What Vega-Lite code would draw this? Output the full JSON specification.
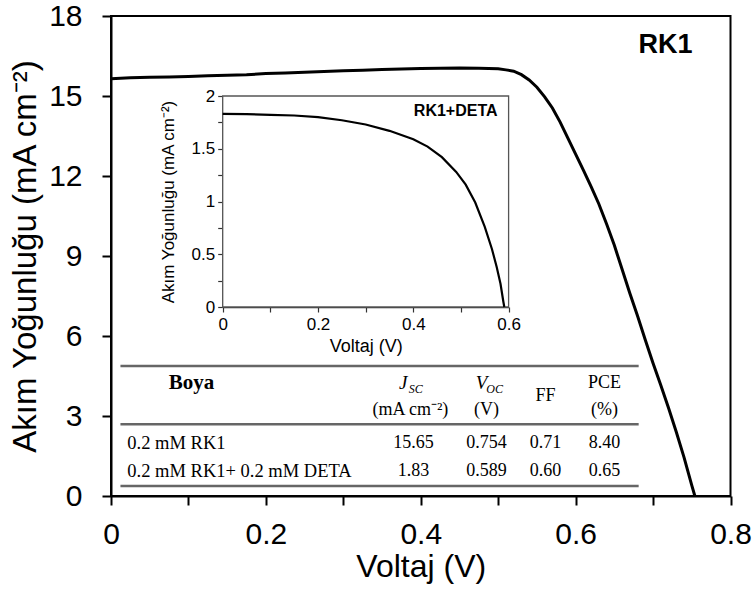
{
  "$schema": "https://vega.github.io/schema/vega-lite/v6.json",
  "width": 619.5,
  "height": 480,
  "autosize": {"type": "none"},
  "padding": {"left": 111, "top": 16, "right": 25.5, "bottom": 100},
  "background": "white",
  "config": {
    "view": {"stroke": "black", "strokeWidth": 2},
    "font": "Liberation Sans",
    "axis": {"grid": false, "titleFontWeight": "normal", "labelFlush": false, "labelOverlap": false, "labelColor": "black", "titleColor": "black", "labelFont": "Liberation Sans", "titleFont": "Liberation Sans"}
  },
  "datasets": {
    "rk1": [
      {"V": 0, "J": 15.65}, {"V": 0.025, "J": 15.68}, {"V": 0.05, "J": 15.7}, {"V": 0.075, "J": 15.71},
      {"V": 0.1, "J": 15.73}, {"V": 0.125, "J": 15.76}, {"V": 0.15, "J": 15.78}, {"V": 0.175, "J": 15.8},
      {"V": 0.2, "J": 15.84}, {"V": 0.225, "J": 15.86}, {"V": 0.25, "J": 15.89}, {"V": 0.275, "J": 15.92},
      {"V": 0.3, "J": 15.95}, {"V": 0.325, "J": 15.97}, {"V": 0.35, "J": 15.99}, {"V": 0.375, "J": 16.01},
      {"V": 0.4, "J": 16.03}, {"V": 0.425, "J": 16.04}, {"V": 0.45, "J": 16.05}, {"V": 0.475, "J": 16.04},
      {"V": 0.5, "J": 16.02}, {"V": 0.51, "J": 15.98}, {"V": 0.52, "J": 15.93}, {"V": 0.53, "J": 15.8},
      {"V": 0.54, "J": 15.6}, {"V": 0.55, "J": 15.33}, {"V": 0.56, "J": 14.97}, {"V": 0.57, "J": 14.55},
      {"V": 0.58, "J": 14.02}, {"V": 0.59, "J": 13.42}, {"V": 0.6, "J": 12.82}, {"V": 0.61, "J": 12.22},
      {"V": 0.62, "J": 11.6}, {"V": 0.63, "J": 10.95}, {"V": 0.64, "J": 10.2}, {"V": 0.65, "J": 9.4},
      {"V": 0.66, "J": 8.5}, {"V": 0.67, "J": 7.6}, {"V": 0.68, "J": 6.75}, {"V": 0.69, "J": 5.85},
      {"V": 0.7, "J": 4.98}, {"V": 0.71, "J": 4.15}, {"V": 0.72, "J": 3.3}, {"V": 0.73, "J": 2.4},
      {"V": 0.74, "J": 1.45}, {"V": 0.75, "J": 0.4}, {"V": 0.754, "J": 0}
    ],
    "deta": [
      {"V": 0, "J": 1.83}, {"V": 0.05, "J": 1.828}, {"V": 0.1, "J": 1.822}, {"V": 0.15, "J": 1.815},
      {"V": 0.2, "J": 1.8}, {"V": 0.25, "J": 1.77}, {"V": 0.3, "J": 1.73}, {"V": 0.35, "J": 1.67},
      {"V": 0.4, "J": 1.59}, {"V": 0.43, "J": 1.52}, {"V": 0.46, "J": 1.42}, {"V": 0.49, "J": 1.28},
      {"V": 0.51, "J": 1.16}, {"V": 0.53, "J": 0.99}, {"V": 0.55, "J": 0.76}, {"V": 0.565, "J": 0.55},
      {"V": 0.575, "J": 0.38}, {"V": 0.583, "J": 0.22}, {"V": 0.589, "J": 0.05}, {"V": 0.591, "J": 0}
    ],
    "tableLines": [
      {"V": 0.0122, "V2": 0.6814, "J": 4.875},
      {"V": 0.0122, "V2": 0.6814, "J": 2.689},
      {"V": 0.0122, "V2": 0.6814, "J": 0.375}
    ],
    "tableCells": [
      {"V": 0.3866, "J": 3.225, "t": "(mA cm⁻²)"},
      {"V": 0.4849, "J": 3.225, "t": "(V)"},
      {"V": 0.5611, "J": 3.75, "t": "FF"},
      {"V": 0.6374, "J": 4.256, "t": "PCE"},
      {"V": 0.6374, "J": 3.225, "t": "(%)"},
      {"V": 0.3905, "J": 1.9875, "t": "15.65"},
      {"V": 0.4849, "J": 1.9875, "t": "0.754"},
      {"V": 0.5611, "J": 1.9875, "t": "0.71"},
      {"V": 0.6374, "J": 1.9875, "t": "8.40"},
      {"V": 0.3905, "J": 0.956, "t": "1.83"},
      {"V": 0.4849, "J": 0.956, "t": "0.589"},
      {"V": 0.5611, "J": 0.956, "t": "0.60"},
      {"V": 0.6374, "J": 0.956, "t": "0.65"}
    ],
    "tableRowLabels": [
      {"V": 0.0211, "J": 1.9875, "t": "0.2 mM RK1"},
      {"V": 0.0211, "J": 0.956, "t": "0.2 mM RK1+ 0.2 mM DETA"}
    ],
    "tableBold": [{"V": 0.1041, "J": 4.256, "t": "Boya"}],
    "tableItalic": [
      {"V": 0.3775, "J": 4.256, "t": "J"},
      {"V": 0.4785, "J": 4.256, "t": "V"}
    ],
    "tableSub": [
      {"V": 0.3935, "J": 4.03, "t": "SC"},
      {"V": 0.4955, "J": 4.03, "t": "OC"}
    ],
    "mainLabel": [{"V": 0.716, "J": 16.91, "t": "RK1"}],
    "insetFrame": [{"V": 0, "V2": 0.6, "J": 0, "J2": 2}],
    "insetLabel": [{"V": 0.489, "J": 1.858, "t": "RK1+DETA"}]
  },
  "layer": [
    {
      "layer": [
        {
          "data": {"name": "rk1"},
          "mark": {"type": "line", "color": "black", "strokeWidth": 3, "interpolate": "linear"},
          "encoding": {
            "x": {
              "field": "V", "type": "quantitative",
              "scale": {"domain": [0, 0.8], "nice": false, "zero": false},
              "axis": {
                "title": "Voltaj (V)", "orient": "bottom",
                "values": [0, 0.1, 0.2, 0.3, 0.4, 0.5, 0.6, 0.7, 0.8],
                "labelExpr": "round(datum.value*10) % 2 == 0 ? format(datum.value, '~g') : ''",
                "labelFontSize": 30, "titleFontSize": 32, "labelPadding": 14, "titlePadding": 2,
                "tickSize": 9, "tickWidth": 2, "tickColor": "black", "domainColor": "black", "domainWidth": 2
              }
            },
            "y": {
              "field": "J", "type": "quantitative",
              "scale": {"domain": [0, 18], "nice": false, "zero": false},
              "axis": {
                "title": "Akım Yoğunluğu (mA cm⁻²)", "orient": "left",
                "values": [0, 1.5, 3, 4.5, 6, 7.5, 9, 10.5, 12, 13.5, 15, 16.5, 18],
                "labelExpr": "round(datum.value/1.5) % 2 == 0 ? format(datum.value, '~g') : ''",
                "labelFontSize": 30, "titleFontSize": 33, "labelPadding": 20, "titlePadding": 6,
                "tickSize": 9, "tickWidth": 2, "tickColor": "black", "domainColor": "black", "domainWidth": 2
              }
            }
          }
        },
        {
          "data": {"name": "mainLabel"},
          "mark": {"type": "text", "font": "Liberation Sans", "fontWeight": "bold", "fontSize": 27, "align": "center", "baseline": "middle", "color": "black"},
          "encoding": {"x": {"field": "V", "type": "quantitative"}, "y": {"field": "J", "type": "quantitative"}, "text": {"field": "t"}}
        },
        {
          "data": {"name": "tableLines"},
          "mark": {"type": "rule", "color": "#666666", "strokeWidth": 2.6},
          "encoding": {"x": {"field": "V", "type": "quantitative"}, "x2": {"field": "V2"}, "y": {"field": "J", "type": "quantitative"}}
        },
        {
          "data": {"name": "tableCells"},
          "mark": {"type": "text", "font": "Liberation Serif", "fontSize": 18, "align": "center", "baseline": "middle", "color": "black"},
          "encoding": {"x": {"field": "V", "type": "quantitative"}, "y": {"field": "J", "type": "quantitative"}, "text": {"field": "t"}}
        },
        {
          "data": {"name": "tableRowLabels"},
          "mark": {"type": "text", "font": "Liberation Serif", "fontSize": 18.5, "align": "left", "baseline": "middle", "color": "black"},
          "encoding": {"x": {"field": "V", "type": "quantitative"}, "y": {"field": "J", "type": "quantitative"}, "text": {"field": "t"}}
        },
        {
          "data": {"name": "tableBold"},
          "mark": {"type": "text", "font": "Liberation Serif", "fontSize": 21, "fontWeight": "bold", "align": "center", "baseline": "middle", "color": "black"},
          "encoding": {"x": {"field": "V", "type": "quantitative"}, "y": {"field": "J", "type": "quantitative"}, "text": {"field": "t"}}
        },
        {
          "data": {"name": "tableItalic"},
          "mark": {"type": "text", "font": "Liberation Serif", "fontSize": 19, "fontStyle": "italic", "align": "center", "baseline": "middle", "color": "black"},
          "encoding": {"x": {"field": "V", "type": "quantitative"}, "y": {"field": "J", "type": "quantitative"}, "text": {"field": "t"}}
        },
        {
          "data": {"name": "tableSub"},
          "mark": {"type": "text", "font": "Liberation Serif", "fontSize": 12, "fontStyle": "italic", "align": "center", "baseline": "middle", "color": "black"},
          "encoding": {"x": {"field": "V", "type": "quantitative"}, "y": {"field": "J", "type": "quantitative"}, "text": {"field": "t"}}
        }
      ]
    },
    {
      "layer": [
        {
          "data": {"name": "insetFrame"},
          "mark": {"type": "rect", "fill": "white", "stroke": "#555555", "strokeWidth": 1.3},
          "encoding": {
            "x": {"field": "V", "type": "quantitative"}, "x2": {"field": "V2"},
            "y": {"field": "J", "type": "quantitative"}, "y2": {"field": "J2"}
          }
        },
        {
          "data": {"name": "deta"},
          "mark": {"type": "line", "color": "black", "strokeWidth": 2.2},
          "encoding": {
            "x": {
              "field": "V", "type": "quantitative",
              "scale": {"domain": [0, 0.6], "range": [111.7, 397.6], "nice": false, "zero": false},
              "axis": {
                "title": "Voltaj (V)", "orient": "bottom", "offset": -189,
                "values": [0, 0.1, 0.2, 0.3, 0.4, 0.5, 0.6],
                "labelExpr": "round(datum.value*10) % 2 == 0 ? format(datum.value, '~g') : ''",
                "labelFontSize": 17, "titleFontSize": 18, "labelPadding": 4, "titlePadding": 5,
                "tickSize": 5, "tickWidth": 1.2, "tickColor": "#333333", "domainColor": "#333333", "domainWidth": 1.3
              }
            },
            "y": {
              "field": "J", "type": "quantitative",
              "scale": {"domain": [0, 2], "range": [291, 80], "nice": false, "zero": false},
              "axis": {
                "title": "Akım Yoğunluğu (mA cm⁻²)", "orient": "left", "offset": -111.7,
                "values": [0, 0.25, 0.5, 0.75, 1, 1.25, 1.5, 1.75, 2],
                "labelExpr": "round(datum.value*4) % 2 == 0 ? format(datum.value, '~g') : ''",
                "labelFontSize": 17, "titleFontSize": 17, "labelPadding": 3, "titlePadding": 14,
                "tickSize": 5, "tickWidth": 1.2, "tickColor": "#333333", "domainColor": "#333333", "domainWidth": 1.3
              }
            }
          }
        },
        {
          "data": {"name": "insetLabel"},
          "mark": {"type": "text", "font": "Liberation Sans", "fontWeight": "bold", "fontSize": 16, "align": "center", "baseline": "middle", "color": "black"},
          "encoding": {"x": {"field": "V", "type": "quantitative"}, "y": {"field": "J", "type": "quantitative"}, "text": {"field": "t"}}
        }
      ]
    }
  ],
  "resolve": {"scale": {"x": "independent", "y": "independent"}, "axis": {"x": "independent", "y": "independent"}}
}
